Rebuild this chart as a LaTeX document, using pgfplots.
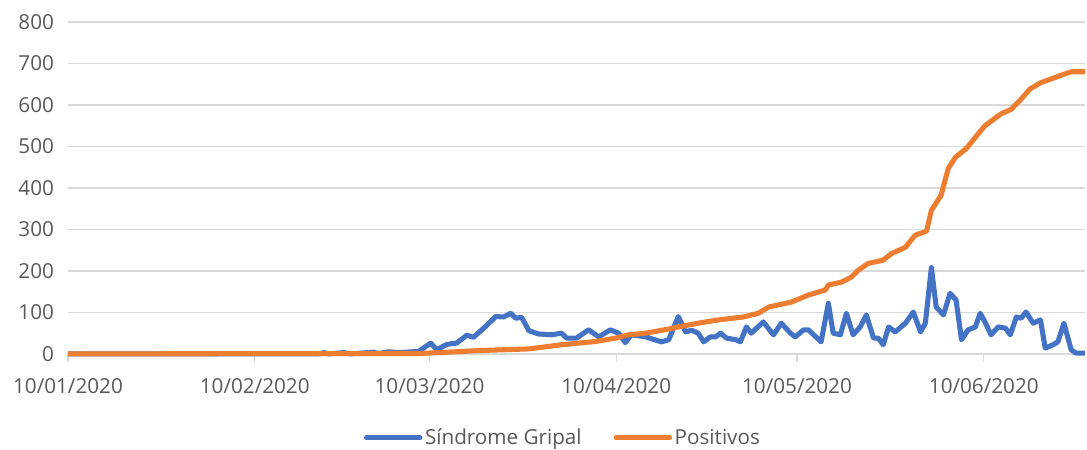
\documentclass[border=0pt]{standalone}
\usepackage{fontspec}
\setmainfont{Open Sans}
\usepackage{pgfplots}
\pgfplotsset{compat=1.18}
\definecolor{sgblue}{HTML}{4472C4}
\definecolor{posorange}{HTML}{ED7D31}
\definecolor{txtgray}{HTML}{595959}
\definecolor{gridgray}{HTML}{D9D9D9}
\begin{document}
\begin{tikzpicture}
\begin{axis}[
    name=ax,
    scale only axis,
    width=763pt, height=249pt,
    xmin=0, xmax=168.8, ymin=0, ymax=800,
    clip=false,
    axis x line*=bottom,
    axis y line*=left,
    y axis line style={draw=none},
    x axis line style={draw=gridgray, line width=1pt, -},
    ytick={0,100,...,800},
    ytick style={draw=none},
    xtick={0,31,60,91,121,152},
    xticklabels={10/01/2020,10/02/2020,10/03/2020,10/04/2020,10/05/2020,10/06/2020},
    xtick style={draw=gridgray, line width=1pt},
    tick align=outside,
    major tick length=6pt,
    ymajorgrids,
    grid style={draw=gridgray, line width=1pt},
    /pgf/number format/assume math mode=true,
    tick label style={font=\fontsize{15.5}{18}\selectfont, text=txtgray},
    yticklabel style={xshift=-1pt},
    xticklabel style={yshift=-9pt},
    legend columns=2,
    legend style={draw=none, at={(0.487,-0.253)}, anchor=center,
        font=\fontsize{15.5}{18}\selectfont, text=txtgray,
        /tikz/every even column/.append style={column sep=22pt}},
    legend image code/.code={\draw[#1, line width=3.8pt, line cap=round] (0pt,0pt) -- (40pt,0pt);},
]
\addplot[sgblue, line width=3.8pt, line join=round] coordinates {
(0,0) (41.6,0) (42.5,3) (43.3,0) (45.8,3) (46.9,0) (50.7,4) (51.6,1) (53.2,5)
(54.9,3) (58.2,6) (60.2,26) (61.2,10) (62.9,23) (64.5,26) (66.2,45) (67.3,40)
(69.3,66) (71.0,90) (72.3,89) (73.5,98) (74.3,86) (75.3,88) (76.5,56) (78.1,48)
(80.3,46) (81.9,50) (82.8,38) (84.4,38) (86.4,58) (88.1,41) (90.0,58) (91.4,50)
(92.5,27) (93.5,46) (95.9,41) (98.5,29) (99.7,34) (101.3,90) (102.5,53) (103.5,57)
(104.6,50) (105.5,29) (106.6,41) (107.5,41) (108.3,50) (109.3,38) (110.9,34)
(111.6,29) (112.6,65) (113.4,50) (115.4,77) (117.1,46) (118.4,74) (119.9,50)
(120.7,41) (122.1,58) (122.9,58) (125.0,29) (126.2,122) (127.0,50) (128.2,46)
(129.2,98) (130.3,46) (131.5,65) (132.5,94) (133.7,38) (134.5,38) (135.3,22)
(136.2,65) (137.3,53) (139.0,74) (140.3,101) (141.5,53) (142.3,74) (143.3,208)
(144.1,113) (145.3,94) (146.4,146) (147.4,130) (148.3,34) (149.4,58) (150.6,65)
(151.4,98) (152.2,77) (153.2,46) (154.4,65) (155.6,62) (156.4,46) (157.4,89)
(158.2,86) (159.0,101) (160.2,74) (161.4,82) (162.2,14) (163.5,22) (164.3,29)
(165.3,74) (166.5,10) (167.3,2) (168.8,2)
};
\addlegendentry{Síndrome Gripal}
\addplot[posorange, line width=3.8pt, line join=round] coordinates {
(0,0) (58.2,1) (61.5,3) (68.2,8) (76.5,12) (81.9,22) (87.6,30) (90.9,38)
(93.0,46) (95.9,50) (99.7,60) (101.3,65) (104.6,74) (108.0,82) (112.1,89)
(114.6,98) (116.3,113) (120.1,125) (122.9,142) (125.7,154) (126.2,166)
(128.4,173) (130.0,185) (131.2,202) (132.8,218) (135.3,226) (136.7,242)
(139.0,257) (140.6,286) (142.5,296) (143.3,346) (144.9,382) (146.1,447)
(147.3,474) (149.1,495) (151.1,531) (152.2,550) (154.9,579) (156.5,589)
(158.0,611) (159.7,639) (161.5,654) (163.8,666) (164.7,671) (166.5,680) (168.8,680)
};
\addlegendentry{Positivos}
\end{axis}
\pgfresetboundingbox
\path ([shift={(-51pt,-72pt)}]ax.south west) rectangle ([shift={(1.5pt,16.5pt)}]ax.north east);
\end{tikzpicture}
\end{document}
